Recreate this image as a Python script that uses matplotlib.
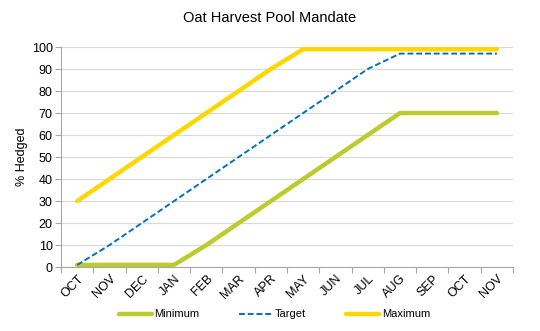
import matplotlib
matplotlib.use("Agg")
import matplotlib.pyplot as plt
import numpy as np

months = ["OCT", "NOV", "DEC", "JAN", "FEB", "MAR", "APR", "MAY", "JUN", "JUL", "AUG", "SEP", "OCT", "NOV"]
minimum = [1, 1, 1, 1, 10, 20, 30, 40, 50, 60, 70, 70, 70, 70]
target = [1, 10, 20, 30, 40, 50, 60, 70, 80, 90, 97, 97, 97, 97]
maximum = [30, 40, 50, 60, 70, 80, 90, 99, 99, 99, 99, 99, 99, 99]

plt.rcParams['font.family'] = ['Liberation Sans', 'DejaVu Sans']

fig = plt.figure(figsize=(5.4, 3.31), dpi=100)
ax = fig.add_axes([0.113, 0.193, 0.837, 0.665])

x = np.arange(len(months))
ax.plot(x, minimum, color="#BCCB2E", lw=3.2, label="Minimum", solid_capstyle="round")
ax.plot(x, target, color="#0070C0", lw=1.4, ls=(0, (3, 1.5)), label="Target")
ax.plot(x, maximum, color="#FFD700", lw=3.2, label="Maximum", solid_capstyle="round")

ax.set_xlim(-0.5, len(months) - 0.5)
ax.set_ylim(0, 100)
ax.set_yticks(np.arange(0, 101, 10))
ax.yaxis.grid(True, color="#D9D9D9", lw=0.8)
ax.set_axisbelow(True)

ax.set_xticks(np.arange(-0.5, len(months), 1.0))
ax.set_xticklabels([])
ax.set_xticks(x, minor=True)
ax.set_xticklabels(months, minor=True, rotation=45, ha="right", rotation_mode="anchor", fontsize=9)
ax.tick_params(axis="x", which="minor", length=0, pad=4)
ax.tick_params(axis="x", which="major", length=4, color="#A6A6A6", direction="out")
ax.tick_params(axis="y", length=4, color="#A6A6A6", labelsize=9, pad=2)

for s in ["top", "right"]:
    ax.spines[s].set_visible(False)
for s in ["left", "bottom"]:
    ax.spines[s].set_color("#A6A6A6")
    ax.spines[s].set_linewidth(0.8)

ax.set_ylabel("% Hedged", fontsize=9, labelpad=3)
fig.text(0.5, 0.945, "Oat Harvest Pool Mandate", ha="center", va="center", fontsize=10.5)

fig.legend(loc="center", bbox_to_anchor=(0.508, 0.05), ncol=3, frameon=False, fontsize=8,
           handlelength=3.0, columnspacing=3.6, handletextpad=0.2)

fig.savefig("out.png", dpi=100)
